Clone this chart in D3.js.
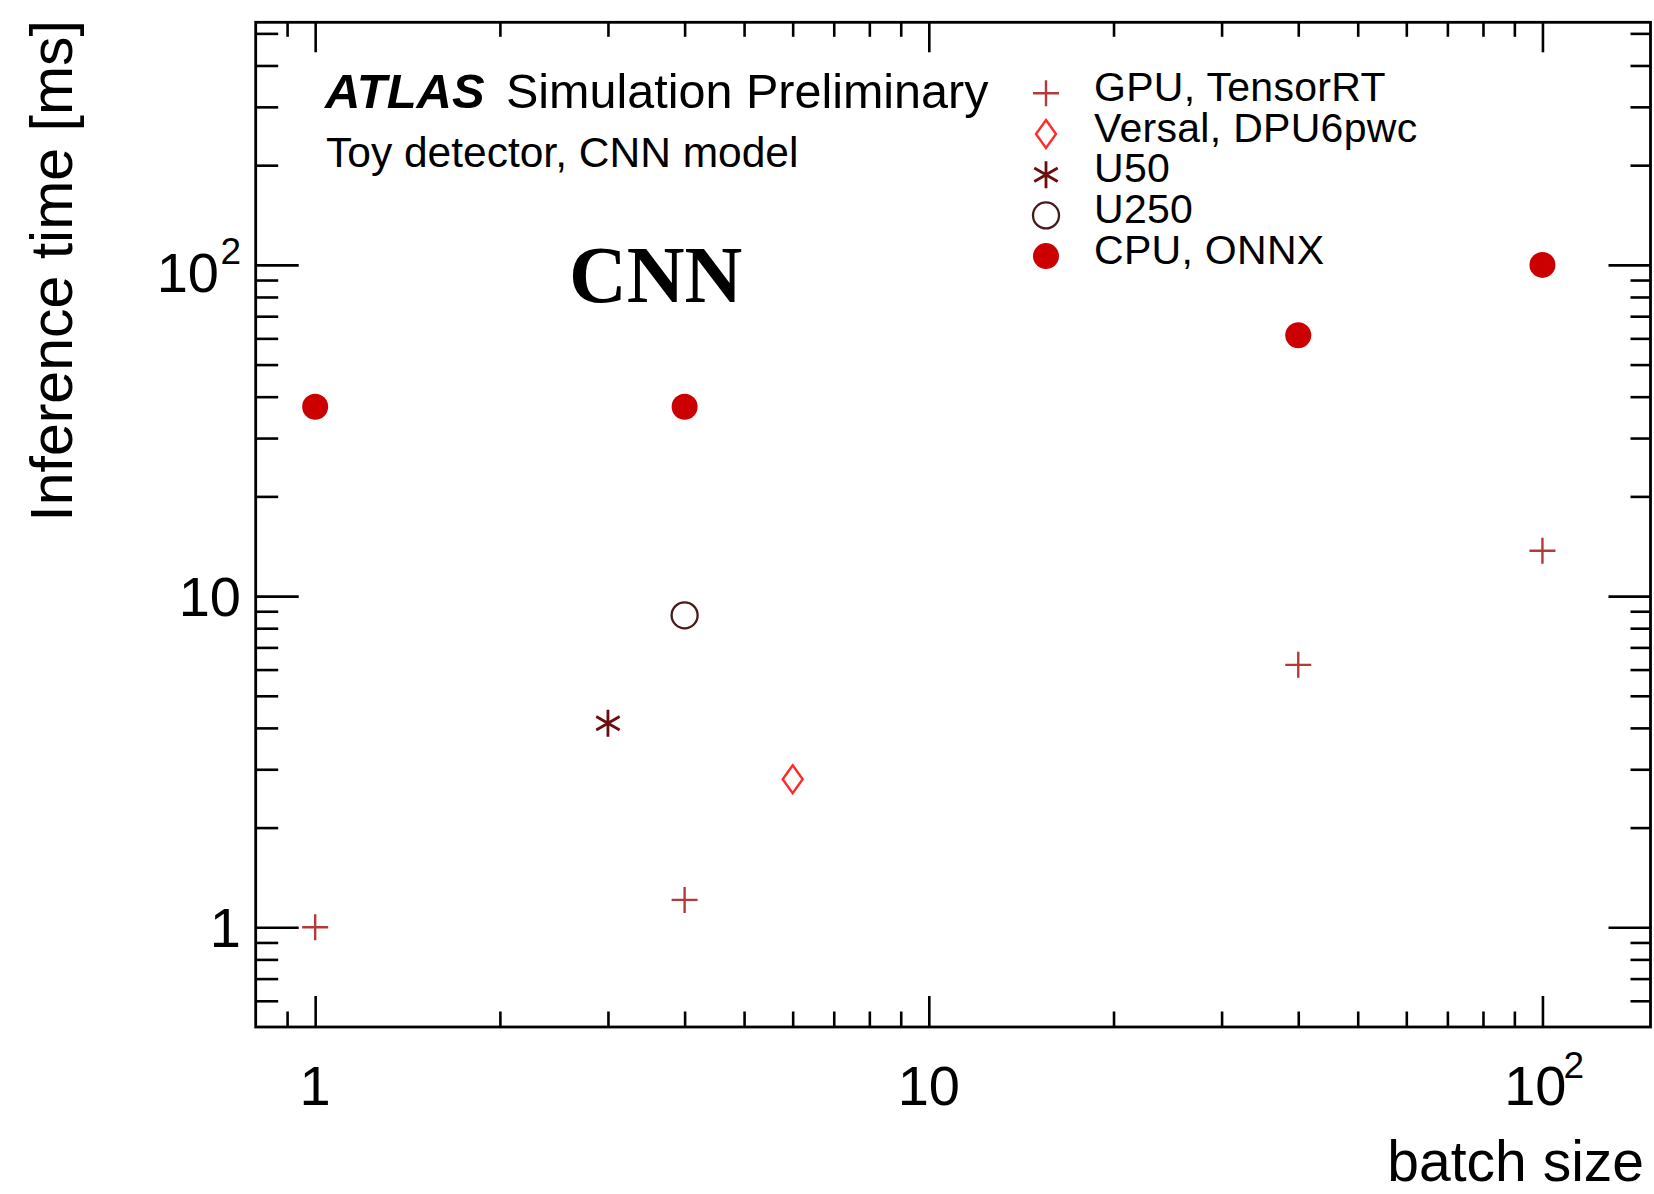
<!DOCTYPE html>
<html>
<head>
<meta charset="utf-8">
<script src="https://cdn.jsdelivr.net/npm/d3@7"></script>
<style>
  html, body { margin: 0; padding: 0; background: #ffffff; }
  svg { display: block; }
  text { font-family: "Liberation Sans", Arial, Helvetica, sans-serif; fill: #000; }
</style>
</head>
<body>
<svg id="chart" width="1654" height="1194"></svg>
<script>
// ---------------- data ----------------
const gpuBatch    = [1, 4, 40, 100];
const gpuTime     = [1.0, 1.21, 6.2, 13.7];
const versalBatch = [6];
const versalTime  = [2.8];
const u50Batch    = [3];
const u50Time     = [4.13];
const u250Batch   = [4];
const u250Time    = [8.75];
const cpuBatch    = [1, 4, 40, 100];
const cpuTime     = [37.3, 37.3, 61.3, 100];

const seriesNames = ["GPU, TensorRT", "Versal, DPU6pwc", "U50", "U250", "CPU, ONNX"];

const xMajorTicks = [1, 10, 100];
const xMinorTicks = [0.9, 2, 3, 4, 5, 6, 7, 8, 9, 20, 30, 40, 50, 60, 70, 80, 90];
const yMajorTicks = [1, 10, 100];
const yMinorTicks = [0.6, 0.7, 0.8, 0.9, 2, 3, 4, 5, 6, 7, 8, 9, 20, 30, 40, 50, 60, 70, 80, 90, 200, 300, 400, 500];
const xTickLabels = [{base: "1", exp: ""}, {base: "10", exp: ""}, {base: "10", exp: "2"}];
const yTickLabels = [{base: "1", exp: ""}, {base: "10", exp: ""}, {base: "10", exp: "2"}];

const xTitle = "batch size";
const yTitle = "Inference time [ms]";

// ---------------- layout ----------------
const svg = d3.select("#chart");
const L = 255.7, R = 1650.5, T = 22.3, B = 1027;

const x = d3.scaleLog().domain([0.8, 150]).range([L, R]);
const y = d3.scaleLog().domain([0.5, 540]).range([B, T]);

// colours
const cGPU = "#b43a3a", cVersal = "#ff2a2a", cU50 = "#6a0d0d", cU250 = "#4a1a1a", cCPU = "#cc0000";

// ---------------- axes (ticks) ----------------
function styleAxis(g) {
  g.select(".domain").remove();
  g.selectAll(".tick line").attr("stroke", "#000").attr("stroke-width", 2.6);
  g.selectAll(".tick text").remove();
}
// bottom
svg.append("g").attr("transform", `translate(0,${B})`)
  .call(d3.axisBottom(x).tickValues(xMajorTicks).tickSize(-31).tickFormat(() => "")).call(styleAxis);
svg.append("g").attr("transform", `translate(0,${B})`)
  .call(d3.axisBottom(x).tickValues(xMinorTicks).tickSize(-15.5).tickFormat(() => "")).call(styleAxis);
// top
svg.append("g").attr("transform", `translate(0,${T})`)
  .call(d3.axisTop(x).tickValues(xMajorTicks).tickSize(-30).tickFormat(() => "")).call(styleAxis);
svg.append("g").attr("transform", `translate(0,${T})`)
  .call(d3.axisTop(x).tickValues(xMinorTicks).tickSize(-14.5).tickFormat(() => "")).call(styleAxis);
// left
svg.append("g").attr("transform", `translate(${L},0)`)
  .call(d3.axisLeft(y).tickValues(yMajorTicks).tickSize(-43).tickFormat(() => "")).call(styleAxis);
svg.append("g").attr("transform", `translate(${L},0)`)
  .call(d3.axisLeft(y).tickValues(yMinorTicks).tickSize(-22.5).tickFormat(() => "")).call(styleAxis);
// right
svg.append("g").attr("transform", `translate(${R},0)`)
  .call(d3.axisRight(y).tickValues(yMajorTicks).tickSize(-42).tickFormat(() => "")).call(styleAxis);
svg.append("g").attr("transform", `translate(${R},0)`)
  .call(d3.axisRight(y).tickValues(yMinorTicks).tickSize(-20).tickFormat(() => "")).call(styleAxis);

// frame
svg.append("rect").attr("x", L).attr("y", T).attr("width", R - L).attr("height", B - T)
  .attr("fill", "none").attr("stroke", "#000").attr("stroke-width", 2.8);

// ---------------- tick labels ----------------
const tickFont = 56, supFont = 37;
xMajorTicks.forEach((v, i) => {
  const lab = xTickLabels[i];
  const px = x(v);
  if (!lab.exp) {
    svg.append("text").attr("x", px).attr("y", 1105).attr("text-anchor", "middle")
      .attr("font-size", tickFont).text(lab.base);
  } else {
    svg.append("text").attr("x", px + 24).attr("y", 1105).attr("text-anchor", "end")
      .attr("font-size", tickFont).text(lab.base);
    svg.append("text").attr("x", px + 21).attr("y", 1078).attr("text-anchor", "start")
      .attr("font-size", supFont).text(lab.exp);
  }
});
yMajorTicks.forEach((v, i) => {
  const lab = yTickLabels[i];
  const py = y(v);
  if (!lab.exp) {
    svg.append("text").attr("x", 241).attr("y", py + 20).attr("text-anchor", "end")
      .attr("font-size", tickFont).text(lab.base);
  } else {
    svg.append("text").attr("x", 241).attr("y", py - 0.5).attr("text-anchor", "end")
      .attr("font-size", supFont).text(lab.exp);
    svg.append("text").attr("x", 219).attr("y", py + 27.5).attr("text-anchor", "end")
      .attr("font-size", tickFont).text(lab.base);
  }
});

// axis titles
svg.append("text").attr("x", 1644).attr("y", 1181).attr("text-anchor", "end")
  .attr("font-size", 57).text(xTitle);
svg.append("text").attr("transform", "translate(72,20) rotate(-90)").attr("text-anchor", "end")
  .attr("font-size", 59).text(yTitle);

// ---------------- labels ----------------
svg.append("text").attr("x", 325).attr("y", 108).attr("font-size", 49)
  .attr("font-weight", "bold").attr("font-style", "italic").text("ATLAS");
svg.append("text").attr("x", 506).attr("y", 108).attr("font-size", 48.5).text("Simulation Preliminary");
svg.append("text").attr("x", 326).attr("y", 167).attr("font-size", 42.5).text("Toy detector, CNN model");
svg.append("text").attr("x", 569).attr("y", 302).attr("font-size", 80)
  .attr("font-weight", "bold").style("font-family", "'Liberation Serif', 'Times New Roman', serif").text("CNN");

// ---------------- markers ----------------
const plusPath = "M-13,0H13M0,-13V13";
const diamondPath = "M0,-14L10,0L0,14L-10,0Z";
const a = 13.5, c30 = Math.cos(Math.PI / 6) * a, s30 = Math.sin(Math.PI / 6) * a;
const starPath = `M0,${-a}V${a}M${-c30},${-s30}L${c30},${s30}M${-c30},${s30}L${c30},${-s30}`;

function drawPlus(g, px, py) {
  g.append("path").attr("d", plusPath).attr("transform", `translate(${px},${py})`)
    .attr("fill", "none").attr("stroke", cGPU).attr("stroke-width", 2.4);
}
function drawDiamond(g, px, py) {
  g.append("path").attr("d", diamondPath).attr("transform", `translate(${px},${py})`)
    .attr("fill", "none").attr("stroke", cVersal).attr("stroke-width", 2.4);
}
function drawStar(g, px, py) {
  g.append("path").attr("d", starPath).attr("transform", `translate(${px},${py})`)
    .attr("fill", "none").attr("stroke", cU50).attr("stroke-width", 2.8);
}
function drawOpen(g, px, py) {
  g.append("circle").attr("cx", px).attr("cy", py).attr("r", 13)
    .attr("fill", "none").attr("stroke", cU250).attr("stroke-width", 2.3);
}
function drawFilled(g, px, py) {
  g.append("circle").attr("cx", px).attr("cy", py).attr("r", 13).attr("fill", cCPU);
}

const gm = svg.append("g");
cpuBatch.forEach((b, i) => drawFilled(gm, x(b), y(cpuTime[i])));
u250Batch.forEach((b, i) => drawOpen(gm, x(b), y(u250Time[i])));
u50Batch.forEach((b, i) => drawStar(gm, x(b), y(u50Time[i])));
versalBatch.forEach((b, i) => drawDiamond(gm, x(b), y(versalTime[i])));
gpuBatch.forEach((b, i) => drawPlus(gm, x(b), y(gpuTime[i])));

// ---------------- legend ----------------
const drawers = [drawPlus, drawDiamond, drawStar, drawOpen, drawFilled];
const lg = svg.append("g");
seriesNames.forEach((name, i) => {
  const ry = 93.3 + i * 40.7;
  drawers[i](lg, 1046, ry);
  lg.append("text").attr("x", 1094).attr("y", ry + 7.5).attr("font-size", 41)
    .attr("letter-spacing", 0.3).text(name);
});
</script>
</body>
</html>
